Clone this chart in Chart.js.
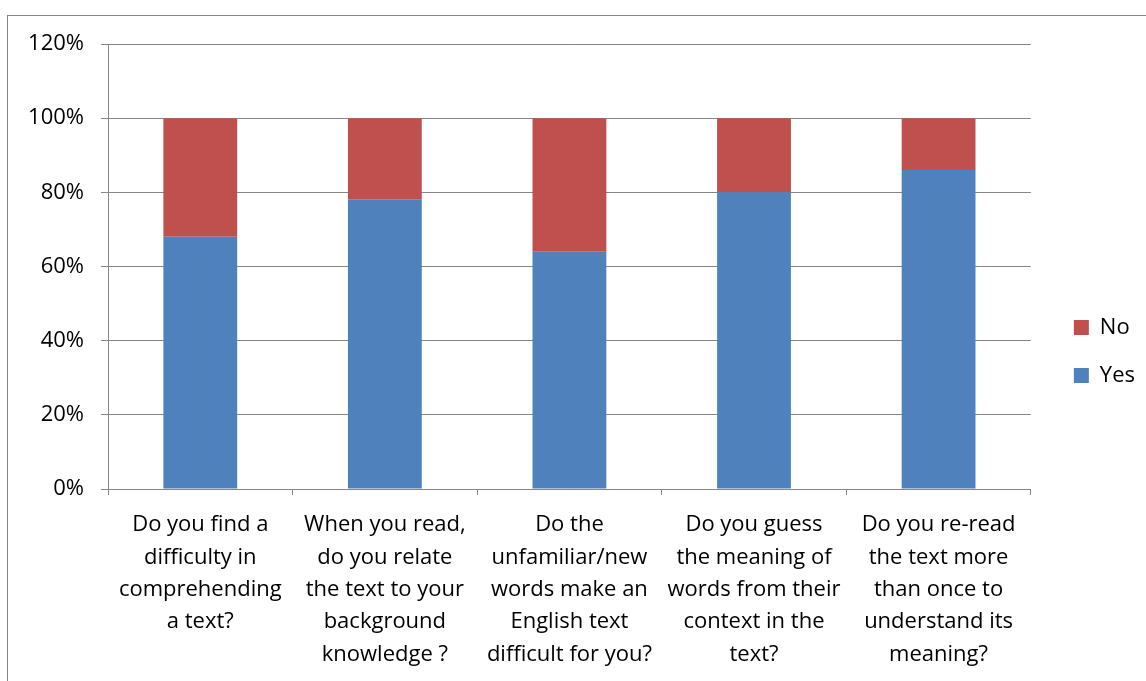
<!DOCTYPE html>
<html>
<head>
<meta charset="utf-8">
<script src="https://cdn.jsdelivr.net/npm/chart.js@4"></script>
<style>
  body { margin: 0; background: #fff; }
  #frame { position: absolute; left: 7px; top: 15px; width: 1200px; height: 700px; border: 1px solid #868686; }
  #wrap { position: absolute; left: 0; top: 0; width: 1146px; height: 681px; }
</style>
</head>
<body>
<div id="frame"></div>
<div id="wrap"><canvas id="myChart"></canvas></div>
<script>
const categories = [
    ['Do you find a', 'difficulty in', 'comprehending', 'a text?'],
    ['When you read,', 'do you relate', 'the text to your', 'background', 'knowledge ?'],
    ['Do the', 'unfamiliar/new', 'words make an', 'English text', 'difficult for you?'],
    ['Do you guess', 'the meaning of', 'words from their', 'context in the', 'text?'],
    ['Do you re-read', 'the text more', 'than once to', 'understand its', 'meaning?']
];
const yesValues = [68, 78, 64, 80, 86];
const noValues = [32, 22, 36, 20, 14];
const percentTicks = [0, 20, 40, 60, 80, 100, 120];

const lineGray = '#868686';
const labelFont = { family: "'Open Sans', sans-serif", size: 22, lineHeight: 1.47 };

// legend sits a bit above the vertical centre in the original
const legendNudge = {
    id: 'legendNudge',
    afterLayout(chart) {
        chart.legend.top -= 11;
        chart.legend.bottom -= 11;
    }
};

document.addEventListener('DOMContentLoaded', () => {
    drawChart();
});

function drawChart() {
    const ctx = document.getElementById('myChart').getContext('2d');
    const myChart = new Chart(ctx, {
        type: 'bar',
        data: {
            labels: categories,
            datasets: [
                { label: 'Yes', data: yesValues, backgroundColor: '#4F81BD', barPercentage: 0.4, categoryPercentage: 1 },
                { label: 'No', data: noValues, backgroundColor: '#C0504D', barPercentage: 0.4, categoryPercentage: 1 }
            ]
        },
        options: {
            responsive: true,
            maintainAspectRatio: false,
            animation: false,
            layout: { padding: { left: 8, top: 44, right: 1, bottom: 0 } },
            plugins: {
                legend: {
                    position: 'right',
                    reverse: true,
                    labels: { boxWidth: 15, boxHeight: 15, padding: 26, color: '#000', font: labelFont }
                },
                tooltip: { enabled: false }
            },
            scales: {
                x: {
                    stacked: true,
                    grid: { offset: true, drawOnChartArea: false, tickLength: 6, color: lineGray },
                    border: { color: lineGray },
                    ticks: { autoSkip: false, maxRotation: 0, padding: 14, color: '#000', font: labelFont },
                    afterFit: (scale) => { scale.height = 192; }
                },
                y: {
                    stacked: true,
                    min: 0,
                    max: 120,
                    afterBuildTicks: (scale) => { scale.ticks = percentTicks.map(v => ({ value: v })); },
                    grid: { color: lineGray, tickLength: 7 },
                    border: { color: lineGray },
                    ticks: { padding: 17, color: '#000', font: labelFont, callback: (v) => v + '%' },
                    afterFit: (scale) => { scale.width = 100; }
                },
                // empty axis, only keeps a gap between the plot and the legend
                spacer: {
                    type: 'linear',
                    position: 'right',
                    grid: { display: false },
                    ticks: { display: false },
                    border: { display: false },
                    afterFit: (scale) => { scale.width = 17; }
                }
            }
        },
        plugins: [legendNudge]
    });
}
</script>
</body>
</html>
